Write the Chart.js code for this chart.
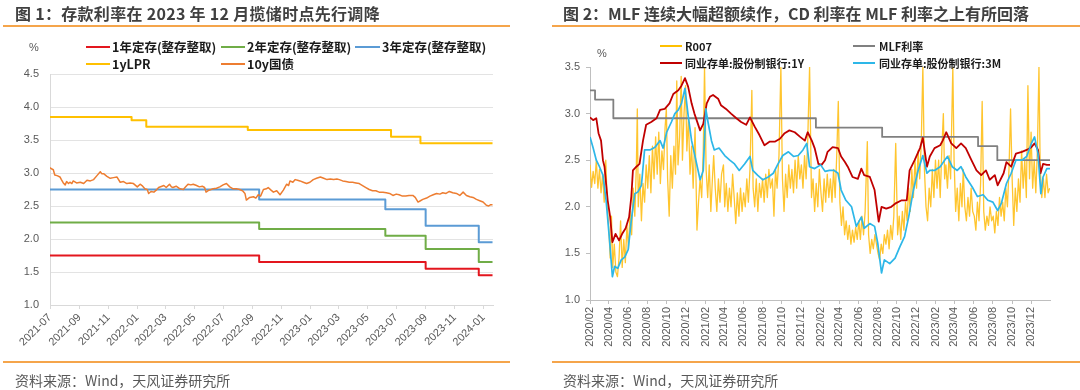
<!DOCTYPE html>
<html><head><meta charset="utf-8">
<script src="https://cdn.jsdelivr.net/npm/chart.js@4.4.1/dist/chart.umd.min.js"></script>
<style>
html,body{margin:0;padding:0;background:#fff;}
body{width:1080px;height:390px;position:relative;overflow:hidden;font-family:"Noto Sans CJK SC","Liberation Sans",sans-serif;}
.t{position:absolute;white-space:nowrap;}
.title{font-size:16px;font-weight:bold;color:#404040;top:2px;line-height:22px;}
.rule{position:absolute;height:2px;background:#F5A54B;}
.src{font-size:14px;color:#595959;top:370px;line-height:20px;}
.leg{font-size:12.5px;font-weight:bold;color:#1a1a1a;line-height:16px;}
.leg2{font-size:11px;font-weight:bold;color:#1a1a1a;line-height:16px;}
.sw{position:absolute;height:2px;}
.unit{font-size:11px;color:#595959;font-family:"Liberation Sans",sans-serif;}
canvas{position:absolute;top:0;}
</style></head>
<body>
<canvas id="c1" width="540" height="390" style="left:0"></canvas>
<canvas id="c2" width="540" height="390" style="left:540px"></canvas>

<div class="t title" style="left:15px;letter-spacing:0.3px">图 1：存款利率在 2023 年 12 月揽储时点先行调降</div>
<div class="rule" style="left:3px;width:507px;top:25px"></div>
<div class="t title" style="left:563px">图 2：MLF 连续大幅超额续作，CD 利率在 MLF 利率之上有所回落</div>
<div class="rule" style="left:552px;width:528px;top:25px"></div>

<div class="t unit" style="left:29px;top:41px">%</div>
<div class="sw" style="left:86px;width:24px;top:46px;background:#E3161E"></div>
<div class="t leg" style="left:112px;top:39px">1年定存(整存整取)</div>
<div class="sw" style="left:221px;width:24px;top:46px;background:#70AD47"></div>
<div class="t leg" style="left:247px;top:39px">2年定存(整存整取)</div>
<div class="sw" style="left:355px;width:25px;top:46px;background:#5B9BD5"></div>
<div class="t leg" style="left:382px;top:39px">3年定存(整存整取)</div>
<div class="sw" style="left:86px;width:24px;top:63px;background:#FFC000"></div>
<div class="t leg" style="left:112px;top:56px">1yLPR</div>
<div class="sw" style="left:221px;width:24px;top:63px;background:#ED7D31"></div>
<div class="t leg" style="left:247px;top:56px">10y国债</div>

<div class="t unit" style="left:597px;top:47px">%</div>
<div class="sw" style="left:660px;width:22px;top:45px;background:#FFC000"></div>
<div class="t leg2" style="left:685px;top:38px">R007</div>
<div class="sw" style="left:853px;width:22px;top:45px;background:#808080"></div>
<div class="t leg2" style="left:879px;top:38px">MLF利率</div>
<div class="sw" style="left:660px;width:22px;top:62px;background:#C00000"></div>
<div class="t leg2" style="left:685px;top:55px">同业存单:股份制银行:1Y</div>
<div class="sw" style="left:853px;width:22px;top:62px;background:#2DB7E8"></div>
<div class="t leg2" style="left:879px;top:55px">同业存单:股份制银行:3M</div>

<div class="rule" style="left:3px;width:507px;top:361px"></div>
<div class="rule" style="left:552px;width:528px;top:361px"></div>
<div class="t src" style="left:15px">资料来源：Wind，天风证券研究所</div>
<div class="t src" style="left:563px">资料来源：Wind，天风证券研究所</div>

<script>
// ---------- Panel 1 data ----------
const p1TickLabels = ['2021-07','2021-09','2021-11','2022-01','2022-03','2022-05','2022-07','2022-09','2022-11','2023-01','2023-03','2023-05','2023-07','2023-09','2023-11','2024-01'];
const lprDates  = ['2021-07-01','2021-12-20','2022-01-20','2022-08-22','2023-06-20','2023-08-21','2024-01-20'];
const lprValues = [3.85,3.80,3.70,3.65,3.55,3.45,3.45];
const depositDates = ['2021-07-01','2022-09-15','2023-06-08','2023-09-01','2023-12-22','2024-01-20'];
const deposit1y = [1.75,1.65,1.65,1.55,1.45,1.45];
const deposit2y = [2.25,2.15,2.05,1.85,1.65,1.65];
const deposit3y = [2.75,2.60,2.45,2.20,1.95,1.95];
const bond10y = [
 ['2021-07-01',3.08],['2021-07-05',3.06],['2021-07-08',3.05],['2021-07-11',2.97],['2021-07-16',2.96],['2021-07-22',2.94],['2021-07-25',2.90],
 ['2021-07-29',2.85],['2021-08-02',2.82],['2021-08-05',2.87],['2021-08-09',2.84],['2021-08-12',2.86],['2021-08-16',2.84],['2021-08-19',2.88],
 ['2021-08-26',2.85],['2021-09-03',2.86],['2021-09-10',2.84],['2021-09-17',2.89],['2021-09-24',2.88],['2021-10-01',2.90],['2021-10-08',2.96],
 ['2021-10-15',3.02],['2021-10-18',2.99],['2021-10-22',2.99],['2021-10-29',2.95],['2021-11-05',2.92],['2021-11-12',2.93],['2021-11-19',2.94],
 ['2021-11-26',2.86],['2021-12-03',2.87],['2021-12-10',2.84],['2021-12-17',2.85],['2021-12-24',2.84],['2022-01-01',2.79],['2022-01-07',2.83],
 ['2022-01-11',2.81],['2022-01-17',2.76],['2022-01-22',2.75],['2022-01-25',2.69],['2022-01-30',2.72],['2022-02-05',2.71],['2022-02-10',2.74],
 ['2022-02-15',2.78],['2022-02-22',2.80],['2022-02-26',2.81],['2022-03-03',2.78],['2022-03-10',2.83],['2022-03-14',2.79],['2022-03-17',2.78],
 ['2022-03-24',2.80],['2022-04-01',2.76],['2022-04-08',2.75],['2022-04-13',2.79],['2022-04-18',2.83],['2022-04-24',2.82],['2022-04-29',2.83],
 ['2022-05-06',2.81],['2022-05-12',2.79],['2022-05-18',2.80],['2022-05-23',2.78],['2022-05-26',2.71],['2022-06-01',2.74],['2022-06-10',2.76],
 ['2022-06-17',2.77],['2022-06-24',2.79],['2022-07-01',2.82],['2022-07-08',2.84],['2022-07-15',2.79],['2022-07-22',2.76],['2022-07-29',2.76],
 ['2022-08-05',2.75],['2022-08-11',2.73],['2022-08-16',2.69],['2022-08-19',2.59],['2022-08-26',2.63],['2022-09-03',2.64],['2022-09-08',2.62],
 ['2022-09-13',2.67],['2022-09-18',2.65],['2022-09-24',2.75],['2022-09-30',2.76],['2022-10-04',2.78],['2022-10-10',2.74],['2022-10-15',2.71],
 ['2022-10-22',2.73],['2022-10-29',2.67],['2022-11-05',2.74],['2022-11-12',2.83],['2022-11-16',2.81],['2022-11-19',2.88],['2022-11-25',2.86],
 ['2022-11-30',2.90],['2022-12-05',2.89],['2022-12-10',2.88],['2022-12-17',2.86],['2022-12-24',2.84],['2022-12-31',2.86],['2023-01-07',2.90],
 ['2023-01-14',2.92],['2023-01-22',2.94],['2023-01-29',2.92],['2023-02-05',2.90],['2023-02-12',2.91],['2023-02-19',2.90],['2023-02-26',2.91],
 ['2023-03-03',2.90],['2023-03-10',2.88],['2023-03-17',2.87],['2023-03-24',2.86],['2023-03-31',2.86],['2023-04-07',2.85],['2023-04-14',2.84],
 ['2023-04-21',2.81],['2023-04-28',2.78],['2023-05-05',2.75],['2023-05-12',2.73],['2023-05-19',2.73],['2023-05-26',2.71],['2023-06-03',2.71],
 ['2023-06-10',2.70],['2023-06-17',2.69],['2023-06-24',2.66],['2023-07-01',2.68],['2023-07-07',2.67],['2023-07-14',2.65],['2023-07-21',2.65],
 ['2023-07-28',2.66],['2023-08-05',2.66],['2023-08-10',2.63],['2023-08-16',2.56],['2023-08-21',2.58],['2023-08-26',2.60],['2023-09-03',2.62],
 ['2023-09-10',2.65],['2023-09-17',2.67],['2023-09-24',2.69],['2023-10-01',2.68],['2023-10-07',2.70],['2023-10-14',2.69],['2023-10-21',2.72],
 ['2023-10-28',2.70],['2023-11-05',2.69],['2023-11-12',2.66],['2023-11-19',2.71],['2023-11-26',2.66],['2023-12-03',2.64],['2023-12-10',2.63],
 ['2023-12-17',2.60],['2023-12-24',2.58],['2023-12-31',2.56],['2024-01-07',2.51],['2024-01-12',2.50],['2024-01-16',2.52],['2024-01-20',2.52]
];

// ---------- Panel 2 data ----------
const p2TickLabels = ['2020/02','2020/04','2020/06','2020/08','2020/10','2020/12','2021/02','2021/04','2021/06','2021/08','2021/10','2021/12','2022/02','2022/04','2022/06','2022/08','2022/10','2022/12','2023/02','2023/04','2023/06','2023/08','2023/10','2023/12'];
const mlfDates  = ['2020-02-01','2020-02-17','2020-04-15','2022-01-17','2022-08-15','2023-06-15','2023-08-15','2024-01-29'];
const mlfValues = [3.25,3.15,2.95,2.85,2.75,2.65,2.50,2.50];
const cd1y = [
 ['2020-02-01',2.96],['2020-02-11',2.93],['2020-02-21',2.95],['2020-02-28',2.79],['2020-03-07',2.71],['2020-03-13',2.50],['2020-03-18',2.43],
 ['2020-03-23',2.25],['2020-03-28',2.07],['2020-04-05',1.89],['2020-04-12',1.62],['2020-04-22',1.71],['2020-05-03',1.64],['2020-05-13',1.71],
 ['2020-05-24',1.77],['2020-06-04',1.89],['2020-06-11',2.11],['2020-06-16',2.39],['2020-06-27',2.43],['2020-07-07',2.46],['2020-07-18',2.71],
 ['2020-07-28',2.88],['2020-08-13',2.91],['2020-08-30',2.95],['2020-09-10',3.04],['2020-09-25',3.05],['2020-10-10',3.11],['2020-10-22',3.21],
 ['2020-11-07',3.25],['2020-11-17',3.30],['2020-11-28',3.38],['2020-12-08',3.29],['2020-12-19',3.11],['2020-12-28',3.00],['2021-01-15',2.82],
 ['2021-01-25',2.89],['2021-02-05',3.11],['2021-02-15',3.18],['2021-02-25',3.20],['2021-03-13',3.16],['2021-03-22',3.09],['2021-04-07',3.05],
 ['2021-04-23',3.00],['2021-05-10',2.95],['2021-05-25',2.91],['2021-06-10',2.88],['2021-06-22',2.96],['2021-07-07',2.86],['2021-07-22',2.77],
 ['2021-08-07',2.66],['2021-08-24',2.70],['2021-09-10',2.70],['2021-09-25',2.73],['2021-10-10',2.79],['2021-10-25',2.82],['2021-11-11',2.80],
 ['2021-11-28',2.75],['2021-12-13',2.71],['2021-12-22',2.80],['2022-01-04',2.71],['2022-01-13',2.63],['2022-01-25',2.46],['2022-02-04',2.45],
 ['2022-02-15',2.50],['2022-02-23',2.59],['2022-03-11',2.64],['2022-03-28',2.63],['2022-04-07',2.54],['2022-04-19',2.48],['2022-04-28',2.43],
 ['2022-05-13',2.32],['2022-05-30',2.30],['2022-06-10',2.41],['2022-06-19',2.34],['2022-07-07',2.32],['2022-07-22',2.18],['2022-08-04',1.84],
 ['2022-08-13',2.00],['2022-08-28',1.98],['2022-09-13',2.00],['2022-09-28',2.04],['2022-10-16',2.07],['2022-11-01',2.07],['2022-11-10',2.39],
 ['2022-11-26',2.50],['2022-12-13',2.63],['2022-12-22',2.74],['2023-01-04',2.43],['2023-01-13',2.54],['2023-01-28',2.63],['2023-02-15',2.66],
 ['2023-02-23',2.71],['2023-03-06',2.80],['2023-03-22',2.68],['2023-04-07',2.63],['2023-04-22',2.68],['2023-05-07',2.63],['2023-05-25',2.50],
 ['2023-06-10',2.39],['2023-06-25',2.34],['2023-07-10',2.39],['2023-07-22',2.29],['2023-08-07',2.34],['2023-08-16',2.23],['2023-09-04',2.36],
 ['2023-09-13',2.48],['2023-09-28',2.43],['2023-10-13',2.57],['2023-11-01',2.59],['2023-11-16',2.61],['2023-12-01',2.64],['2023-12-11',2.68],
 ['2023-12-22',2.61],['2023-12-30',2.36],['2024-01-07',2.46],['2024-01-19',2.45],['2024-01-29',2.45]
];
const cd3m = [
 ['2020-02-01',2.75],['2020-02-11',2.63],['2020-02-21',2.50],['2020-03-02',2.43],['2020-03-13',2.34],['2020-03-23',2.07],['2020-04-03',1.64],
 ['2020-04-12',1.25],['2020-04-19',1.36],['2020-04-29',1.34],['2020-05-10',1.43],['2020-05-21',1.46],['2020-06-01',1.54],['2020-06-11',1.86],
 ['2020-06-22',2.14],['2020-07-02',2.16],['2020-07-13',2.23],['2020-07-23',2.61],['2020-08-09',2.61],['2020-08-25',2.64],['2020-09-10',2.71],
 ['2020-09-20',2.63],['2020-10-01',2.80],['2020-10-16',2.91],['2020-10-27',3.00],['2020-11-07',3.04],['2020-11-17',3.11],['2020-11-28',3.27],
 ['2020-12-08',2.98],['2020-12-19',2.71],['2020-12-28',2.57],['2021-01-15',2.29],['2021-01-25',2.39],['2021-02-02',3.05],['2021-02-09',2.91],
 ['2021-02-20',2.71],['2021-03-01',2.61],['2021-03-16',2.63],['2021-04-03',2.55],['2021-04-19',2.50],['2021-05-04',2.46],['2021-05-19',2.39],
 ['2021-06-05',2.46],['2021-06-22',2.54],['2021-07-01',2.39],['2021-07-16',2.34],['2021-08-02',2.29],['2021-08-19',2.32],['2021-09-04',2.36],
 ['2021-09-19',2.46],['2021-10-04',2.55],['2021-10-22',2.59],['2021-11-07',2.54],['2021-11-22',2.55],['2021-12-07',2.61],['2021-12-19',2.68],
 ['2021-12-28',2.43],['2022-01-13',2.41],['2022-02-01',2.45],['2022-02-15',2.38],['2022-03-01',2.39],['2022-03-16',2.39],['2022-03-28',2.36],
 ['2022-04-07',2.18],['2022-04-22',2.07],['2022-05-10',2.00],['2022-05-25',1.79],['2022-06-10',1.89],['2022-06-19',1.77],['2022-07-07',1.82],
 ['2022-07-22',1.79],['2022-08-01',1.61],['2022-08-13',1.29],['2022-08-22',1.43],['2022-09-08',1.39],['2022-09-25',1.45],['2022-10-10',1.57],
 ['2022-10-25',1.68],['2022-11-07',1.89],['2022-11-22',2.18],['2022-12-07',2.39],['2022-12-22',2.55],['2023-01-04',2.36],['2023-01-13',2.39],
 ['2023-01-28',2.39],['2023-02-15',2.43],['2023-03-01',2.50],['2023-03-10',2.54],['2023-03-25',2.43],['2023-04-10',2.39],['2023-04-22',2.43],
 ['2023-05-07',2.32],['2023-05-28',2.21],['2023-06-13',2.11],['2023-07-01',2.13],['2023-07-16',2.07],['2023-08-01',2.05],['2023-08-16',1.96],
 ['2023-08-28',2.04],['2023-09-13',2.25],['2023-09-28',2.36],['2023-10-13',2.50],['2023-11-01',2.50],['2023-11-16',2.54],['2023-12-01',2.68],
 ['2023-12-11',2.75],['2023-12-22',2.57],['2023-12-31',2.14],['2024-01-07',2.32],['2024-01-19',2.41],['2024-01-29',2.41]
];
const r007 = [
 ['2020-02-01',2.45],['2020-02-06',2.21],['2020-02-11',2.38],['2020-02-16',2.25],['2020-02-21',2.50],['2020-02-26',2.20],
 ['2020-03-02',2.40],['2020-03-07',2.15],['2020-03-12',2.35],['2020-03-17',2.05],['2020-03-22',2.50],['2020-03-27',2.00],
 ['2020-04-01',1.75],['2020-04-05',1.45],['2020-04-09',1.90],['2020-04-13',1.35],['2020-04-18',1.60],['2020-04-23',1.30],['2020-04-28',1.25],
 ['2020-05-03',1.45],['2020-05-08',1.85],['2020-05-13',1.35],['2020-05-18',1.65],['2020-05-23',1.40],['2020-05-28',1.80],
 ['2020-06-02',1.55],['2020-06-07',1.95],['2020-06-12',1.70],['2020-06-17',2.20],['2020-06-22',1.90],['2020-06-27',2.45],['2020-06-30',3.05],
 ['2020-07-03',2.00],['2020-07-08',2.35],['2020-07-13',1.85],['2020-07-18',2.25],['2020-07-23',2.05],['2020-07-28',2.45],
 ['2020-08-02',2.20],['2020-08-07',2.55],['2020-08-12',2.15],['2020-08-17',2.65],['2020-08-22',2.30],['2020-08-27',2.75],
 ['2020-09-01',2.35],['2020-09-06',2.80],['2020-09-11',2.25],['2020-09-16',2.60],['2020-09-21',2.40],['2020-09-26',2.85],['2020-09-30',3.05],
 ['2020-10-04',2.30],['2020-10-09',1.90],['2020-10-14',2.55],['2020-10-19',2.20],['2020-10-24',2.65],['2020-10-29',2.35],
 ['2020-11-02',3.35],['2020-11-06',2.45],['2020-11-11',2.75],['2020-11-16',3.40],['2020-11-20',2.50],['2020-11-25',3.00],['2020-11-30',3.30],
 ['2020-12-04',2.60],['2020-12-09',2.95],['2020-12-14',2.35],['2020-12-19',2.65],['2020-12-24',2.20],['2020-12-30',2.85],
 ['2021-01-05',1.75],['2021-01-10',2.05],['2021-01-15',2.30],['2021-01-20',2.10],['2021-01-25',2.60],['2021-01-29',3.50],
 ['2021-02-03',2.40],['2021-02-08',2.10],['2021-02-13',2.45],['2021-02-18',1.95],['2021-02-23',2.30],['2021-02-27',2.55],
 ['2021-03-04',2.20],['2021-03-09',1.95],['2021-03-14',2.30],['2021-03-19',2.05],['2021-03-24',2.35],['2021-03-30',2.45],
 ['2021-04-03',2.00],['2021-04-08',2.25],['2021-04-13',1.95],['2021-04-18',2.20],['2021-04-23',2.00],['2021-04-28',2.35],
 ['2021-05-03',2.10],['2021-05-08',1.82],['2021-05-13',2.15],['2021-05-18',1.90],['2021-05-23',2.20],['2021-05-28',1.95],
 ['2021-06-02',2.15],['2021-06-07',2.00],['2021-06-12',2.30],['2021-06-17',2.05],['2021-06-22',2.40],['2021-06-28',3.25],
 ['2021-07-02',2.20],['2021-07-07',2.00],['2021-07-12',2.30],['2021-07-17',1.95],['2021-07-22',2.25],['2021-07-27',2.10],
 ['2021-08-01',2.30],['2021-08-06',2.05],['2021-08-11',2.35],['2021-08-16',2.10],['2021-08-21',2.40],['2021-08-26',2.20],
 ['2021-09-01',2.30],['2021-09-06',1.90],['2021-09-11',2.40],['2021-09-16',2.20],['2021-09-22',2.55],['2021-09-28',3.50],
 ['2021-10-03',2.30],['2021-10-08',1.95],['2021-10-13',2.35],['2021-10-18',2.10],['2021-10-23',2.45],['2021-10-28',2.20],
 ['2021-11-02',2.40],['2021-11-07',2.15],['2021-11-12',2.50],['2021-11-17',2.20],['2021-11-22',2.55],['2021-11-27',2.30],
 ['2021-12-02',2.45],['2021-12-07',2.20],['2021-12-12',2.55],['2021-12-17',2.30],['2021-12-22',2.70],['2021-12-28',3.50],
 ['2022-01-03',2.10],['2022-01-08',2.30],['2022-01-13',1.95],['2022-01-18',2.25],['2022-01-23',2.00],['2022-01-28',2.40],
 ['2022-02-02',2.15],['2022-02-07',1.95],['2022-02-12',2.30],['2022-02-17',2.05],['2022-02-22',2.35],['2022-02-27',2.10],
 ['2022-03-04',2.30],['2022-03-09',2.05],['2022-03-14',2.40],['2022-03-19',2.10],['2022-03-24',2.55],['2022-03-29',3.13],
 ['2022-04-03',2.05],['2022-04-08',1.80],['2022-04-13',2.00],['2022-04-18',1.70],['2022-04-23',1.85],['2022-04-28',1.65],
 ['2022-05-03',1.80],['2022-05-08',1.60],['2022-05-13',1.75],['2022-05-18',1.62],['2022-05-23',1.78],['2022-05-28',1.65],
 ['2022-06-02',1.85],['2022-06-07',1.65],['2022-06-12',1.90],['2022-06-17',1.70],['2022-06-22',1.95],['2022-06-29',2.70],
 ['2022-07-03',1.70],['2022-07-08',1.50],['2022-07-13',1.65],['2022-07-18',1.55],['2022-07-23',1.70],['2022-07-28',1.60],
 ['2022-08-02',1.50],['2022-08-07',1.43],['2022-08-12',1.60],['2022-08-17',1.50],['2022-08-22',1.70],['2022-08-27',1.60],
 ['2022-09-01',1.75],['2022-09-06',1.55],['2022-09-11',1.80],['2022-09-16',1.65],['2022-09-21',1.90],['2022-09-27',2.68],
 ['2022-10-03',1.70],['2022-10-08',1.90],['2022-10-13',1.65],['2022-10-18',1.95],['2022-10-23',1.75],['2022-10-28',2.05],
 ['2022-11-02',1.85],['2022-11-07',2.20],['2022-11-12',1.95],['2022-11-17',2.40],['2022-11-22',2.10],['2022-11-27',2.50],
 ['2022-12-02',2.20],['2022-12-07',2.60],['2022-12-12',2.30],['2022-12-17',2.70],['2022-12-22',3.50],['2022-12-27',2.40],
 ['2023-01-01',2.00],['2023-01-06',1.85],['2023-01-11',2.20],['2023-01-16',2.00],['2023-01-21',2.40],['2023-01-26',2.10],['2023-01-31',2.50],
 ['2023-02-05',2.20],['2023-02-10',2.50],['2023-02-15',2.10],['2023-02-20',2.60],['2023-02-25',3.00],
 ['2023-03-01',2.30],['2023-03-05',2.45],['2023-03-10',2.20],['2023-03-15',2.55],['2023-03-20',2.30],['2023-03-27',3.50],['2023-03-31',2.50],
 ['2023-04-05',1.95],['2023-04-10',2.20],['2023-04-15',1.85],['2023-04-20',2.25],['2023-04-25',2.00],['2023-04-29',2.40],
 ['2023-05-04',2.00],['2023-05-09',1.85],['2023-05-14',2.10],['2023-05-19',1.90],['2023-05-24',2.20],['2023-05-29',1.95],
 ['2023-06-03',1.90],['2023-06-08',1.75],['2023-06-13',2.05],['2023-06-18',1.85],['2023-06-23',2.25],['2023-06-28',3.13],
 ['2023-07-03',1.95],['2023-07-08',1.75],['2023-07-13',1.90],['2023-07-18',1.80],['2023-07-23',2.00],['2023-07-28',1.85],
 ['2023-08-02',1.90],['2023-08-07',1.72],['2023-08-12',1.95],['2023-08-17',1.80],['2023-08-22',2.10],['2023-08-27',1.90],
 ['2023-09-01',2.05],['2023-09-06',1.85],['2023-09-11',2.20],['2023-09-16',2.00],['2023-09-21',2.40],['2023-09-26',3.05],
 ['2023-10-01',2.30],['2023-10-06',1.80],['2023-10-11',2.20],['2023-10-16',1.95],['2023-10-21',2.30],['2023-10-26',2.05],['2023-10-31',2.60],
 ['2023-11-05',2.20],['2023-11-10',2.50],['2023-11-15',2.10],['2023-11-20',3.30],['2023-11-25',2.30],['2023-11-30',2.80],
 ['2023-12-05',2.20],['2023-12-10',2.50],['2023-12-15',2.15],['2023-12-20',2.60],['2023-12-25',3.50],['2023-12-29',2.40],
 ['2024-01-03',2.10],['2024-01-08',2.30],['2024-01-13',2.10],['2024-01-18',2.35],['2024-01-23',2.15],['2024-01-28',2.20]
];

// ---------- helpers ----------
function ts(s){ const p = s.split(/[-\/]/).map(Number); return Date.UTC(p[0], p[1]-1, p[2] || 1); }
function zip(dates, vals){ return dates.map((d,i)=>({x:ts(d), y:vals[i]})); }
function pairs(arr){ return arr.map(r=>({x:ts(r[0]), y:r[1]})); }

Chart.defaults.font.family = '"Liberation Sans","Noto Sans CJK SC",sans-serif';
Chart.defaults.color = '#595959';

const common = {
  responsive:false, animation:false, devicePixelRatio:1,
  plugins:{legend:{display:false}, tooltip:{enabled:false}},
  elements:{point:{radius:0}, line:{tension:0, borderJoinStyle:'round'}}
};

new Chart(document.getElementById('c1'), {
  type:'line',
  data:{datasets:[
    {data:zip(depositDates,deposit1y), borderColor:'#E3161E', borderWidth:2, stepped:true, order:6},
    {data:zip(depositDates,deposit2y), borderColor:'#70AD47', borderWidth:2, stepped:true, order:5},
    {data:zip(depositDates,deposit3y), borderColor:'#5B9BD5', borderWidth:2, stepped:true, order:4},
    {data:zip(lprDates,lprValues), borderColor:'#FFC000', borderWidth:2, stepped:true, order:3},
    {data:pairs(bond10y), borderColor:'#ED7D31', borderWidth:1.5, order:1}
  ]},
  options:Object.assign({}, common, {
    layout:{padding:{top:74, right:47, bottom:0, left:0}},
    scales:{
      x:{type:'linear', min:ts('2021-07-01'), max:ts('2024-01-21'),
         afterBuildTicks:s=>{ s.ticks = p1TickLabels.map(l=>({value:ts(l)})); },
         afterFit:s=>{ s.height = 85; },
         ticks:{callback:(v,i)=>p1TickLabels[i], autoSkip:false, minRotation:45, maxRotation:45, font:{size:11}, color:'#595959', padding:2},
         grid:{drawOnChartArea:false, drawTicks:true, tickLength:4, color:'#d9d9d9'},
         border:{display:true, color:'#d9d9d9'}},
      y:{min:1, max:4.5,
         afterFit:s=>{ s.width = 50; },
         ticks:{stepSize:0.5, callback:v=>v.toFixed(1), font:{size:11}, color:'#595959', padding:11},
         grid:{color:'#e3e3e3', drawTicks:false},
         border:{display:true, color:'#d9d9d9'}}
    }
  })
});

new Chart(document.getElementById('c2'), {
  type:'line',
  data:{datasets:[
    {data:pairs(r007), borderColor:'#FFC52E', borderWidth:1.3, order:4},
    {data:zip(mlfDates,mlfValues), borderColor:'#808080', borderWidth:1.8, stepped:true, order:3},
    {data:pairs(cd1y), borderColor:'#C00000', borderWidth:1.8, order:2},
    {data:pairs(cd3m), borderColor:'#2DB7E8', borderWidth:1.7, order:1}
  ]},
  options:Object.assign({}, common, {
    layout:{padding:{top:67, right:30, bottom:0, left:0}},
    scales:{
      x:{type:'linear', min:ts('2020-02-01'), max:ts('2024-01-29'),
         afterBuildTicks:s=>{ s.ticks = p2TickLabels.map(l=>({value:ts(l)})); },
         afterFit:s=>{ s.height = 90; },
         ticks:{callback:(v,i)=>p2TickLabels[i], autoSkip:false, minRotation:90, maxRotation:90, font:{size:11}, color:'#595959', padding:3},
         grid:{display:true, drawOnChartArea:false, drawTicks:true, tickLength:4, color:'#bfbfbf'},
         border:{display:true, color:'#bfbfbf'}},
      y:{min:1, max:3.5,
         afterFit:s=>{ s.width = 50; },
         ticks:{stepSize:0.5, callback:v=>v.toFixed(1), font:{size:11}, color:'#595959', padding:6},
         grid:{display:true, drawOnChartArea:false, drawTicks:true, tickLength:4, color:'#bfbfbf'},
         border:{display:true, color:'#bfbfbf'}}
    }
  })
});
</script>
</body></html>
